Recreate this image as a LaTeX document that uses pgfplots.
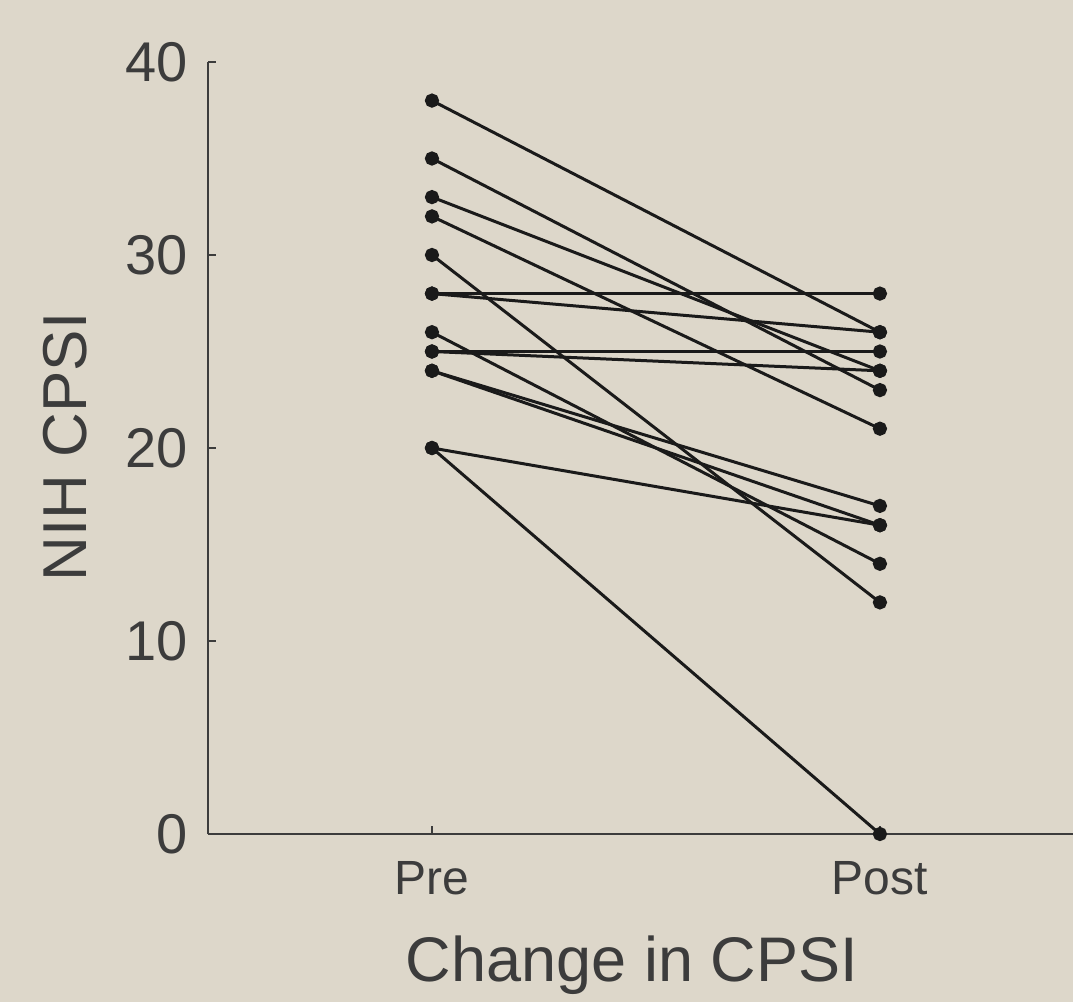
\documentclass[border=0pt]{standalone}
\usepackage{pgfplots}
\pgfplotsset{compat=1.18}
\usepackage{fontspec}
\setmainfont{Liberation Sans}
\definecolor{bg}{RGB}{221,215,202}
\definecolor{ink}{RGB}{26,26,26}
\definecolor{axc}{RGB}{60,60,60}
\begin{document}
\begin{tikzpicture}
\fill[bg] (0,0) rectangle (536.5bp,501bp);
\useasboundingbox (0,0) rectangle (536.5bp,501bp);
\begin{axis}[
  at={(104bp,84bp)}, anchor=south west,
  scale only axis, width=432.5bp, height=386bp,
  xmin=-0.5, xmax=1.431, ymin=0, ymax=40,
  axis x line=bottom, axis y line=left,
  axis line style={-, axc, line width=1bp},
  clip=false,
  xtick={0,1}, xticklabels={Pre,Post},
  ytick={0,10,20,30,40},
  tick align=inside, major tick length=4bp,
  tick style={axc, line width=0.8bp},
  /pgf/number format/assume math mode=true,
  yticklabel style={font=\fontsize{28bp}{28bp}\selectfont, text=axc, inner sep=0pt, xshift=-10bp, anchor=east},
  xticklabel style={font=\fontsize{24bp}{24bp}\selectfont, text=axc, inner sep=0pt, anchor=base, yshift=-30bp},
  xlabel={Change in CPSI},
  ylabel={NIH CPSI},
  xlabel style={font=\fontsize{31.5bp}{31.5bp}\selectfont, text=axc, inner sep=0pt, at={(rel axis cs:0.49,-0.1917)}, anchor=base},
  ylabel style={font=\fontsize{31bp}{31bp}\selectfont, text=axc, inner sep=0pt, at={(rel axis cs:-0.1653,0.5013)}, anchor=center},
  pp/.style={ink, solid, line width=1.5bp, mark=*, mark size=2.8bp, mark options={fill=ink, draw=ink, solid}},
]
\addplot[pp] coordinates {(0,38) (1,26)};
\addplot[pp] coordinates {(0,35) (1,23)};
\addplot[pp] coordinates {(0,33) (1,24)};
\addplot[pp] coordinates {(0,32) (1,21)};
\addplot[pp] coordinates {(0,30) (1,12)};
\addplot[pp] coordinates {(0,28) (1,28)};
\addplot[pp] coordinates {(0,28) (1,26)};
\addplot[pp] coordinates {(0,26) (1,14)};
\addplot[pp] coordinates {(0,25) (1,25)};
\addplot[pp] coordinates {(0,25) (1,24)};
\addplot[pp] coordinates {(0,24) (1,17)};
\addplot[pp] coordinates {(0,24) (1,16)};
\addplot[pp] coordinates {(0,20) (1,16)};
\addplot[pp] coordinates {(0,20) (1,0)};
\end{axis}
\end{tikzpicture}
\end{document}
